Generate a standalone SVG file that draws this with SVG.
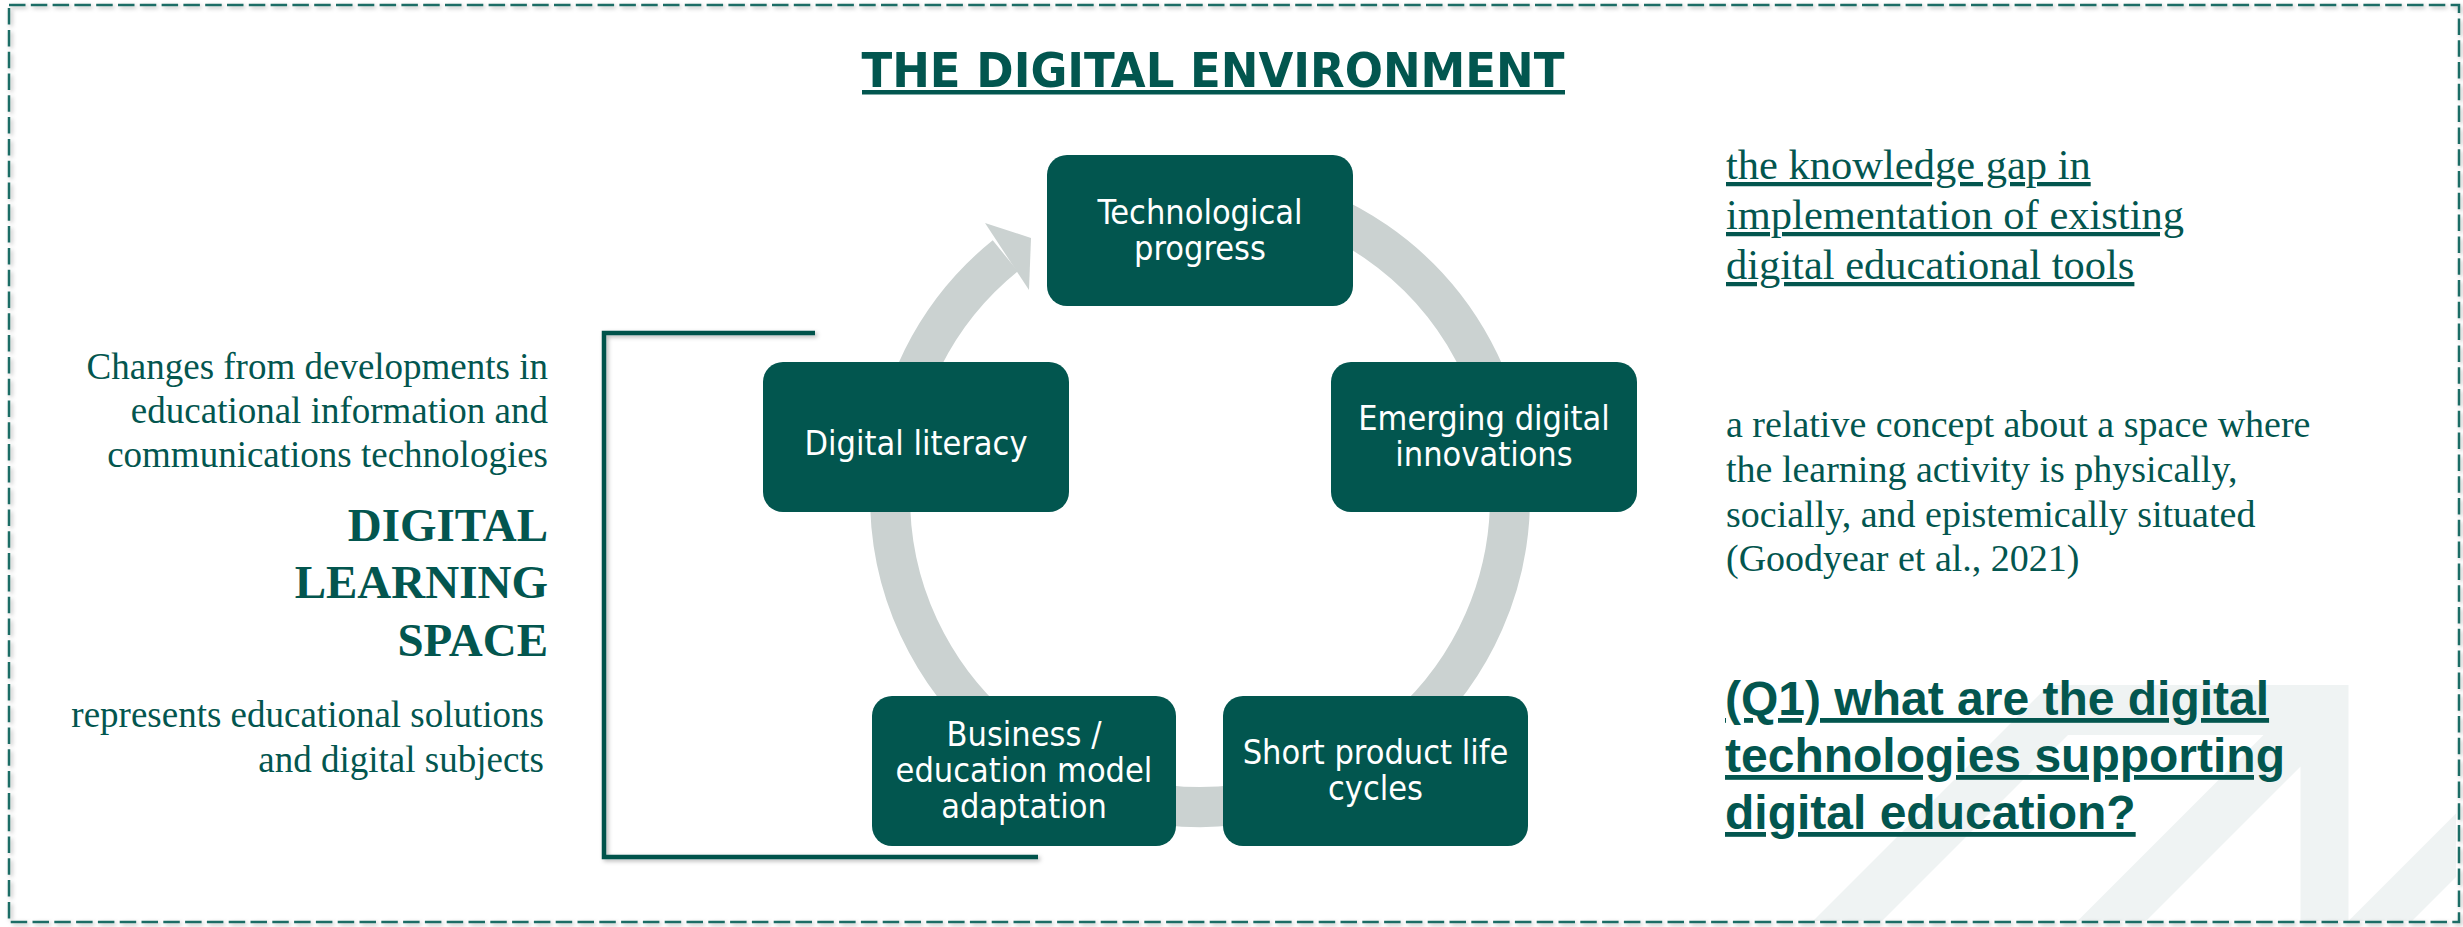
<svg xmlns="http://www.w3.org/2000/svg" width="2463" height="927" viewBox="0 0 2463 927">
<defs>
<style>
.node rect{fill:#02564F;}
.nt{font-family:"DejaVu Sans Condensed","DejaVu Sans",sans-serif;font-stretch:condensed;font-size:34px;fill:#FFFFFF;text-anchor:middle;}
.serif{font-family:"Liberation Serif","Times New Roman",serif;fill:#03564F;}
.q{font-family:"Liberation Sans",Arial,sans-serif;font-weight:bold;font-size:48px;fill:#03564F;text-decoration:underline;}
.wm{fill:#EFF3F3;}
</style>
<filter id="sh" x="-5%" y="-5%" width="110%" height="110%">
<feDropShadow dx="2" dy="2" stdDeviation="2" flood-color="#000" flood-opacity="0.28"/>
</filter>
</defs>
<rect x="0" y="0" width="2463" height="927" fill="#FFFFFF"/>
<g id="watermark">
<path class="wm" fill-rule="evenodd" d="M1813,921 L2049,685 L2348.5,685 L2348.5,921 Z M1882,921 L2068,735 L2263.5,735 L2077.5,921 Z M2146,921 L2300.5,766.5 L2300.5,921 Z"/>
<path class="wm" d="M2348.5,921 L2456,813.5 L2456,877 L2412,921 Z"/>
</g>
<rect id="frame" x="9" y="5" width="2450" height="917" fill="none" stroke="#1F6D66" stroke-width="2.5" stroke-dasharray="16.5 5.3" filter="url(#sh)"/>
<g id="connectors">
<path d="M1253.8,191.7 A310,310 0 1 1 1005.3,255.8" fill="none" stroke="#CBD2D1" stroke-width="40"/>
<polygon points="985,223 1031,238 1029,290" fill="#CBD2D1"/>
<path id="bracket" d="M815,333 H604 V857 H1038" fill="none" stroke="#02524C" stroke-width="4.5" filter="url(#sh)"/>
</g>
<g id="title">
<text x="1213" y="87" font-family="'DejaVu Sans Condensed','DejaVu Sans',sans-serif" font-stretch="condensed" font-weight="bold" font-size="48" fill="#02564F" text-anchor="middle" textLength="703" lengthAdjust="spacingAndGlyphs">THE DIGITAL ENVIRONMENT</text>
<rect x="862" y="90" width="703" height="4.5" fill="#02564F"/>
</g>
<g id="node-tech" class="node">
<rect x="1047" y="155" width="306" height="151" rx="20"/>
<text class="nt" x="1200" y="224">Technological</text>
<text class="nt" x="1200" y="260">progress</text>
</g>
<g id="node-emerging" class="node">
<rect x="1331" y="362" width="306" height="150" rx="20"/>
<text class="nt" x="1484" y="430">Emerging digital</text>
<text class="nt" x="1484" y="466">innovations</text>
</g>
<g id="node-short" class="node">
<rect x="1223" y="696" width="305" height="150" rx="20"/>
<text class="nt" x="1375.5" y="764">Short product life</text>
<text class="nt" x="1375.5" y="800">cycles</text>
</g>
<g id="node-business" class="node">
<rect x="872" y="696" width="304" height="150" rx="20"/>
<text class="nt" x="1024" y="746">Business /</text>
<text class="nt" x="1024" y="782">education model</text>
<text class="nt" x="1024" y="818">adaptation</text>
</g>
<g id="node-literacy" class="node">
<rect x="763" y="362" width="306" height="150" rx="20"/>
<text class="nt" x="916" y="455">Digital literacy</text>
</g>
<g id="left-text" class="serif" text-anchor="end">
<text x="548" y="379" font-size="37">Changes from developments in</text>
<text x="548" y="423" font-size="37">educational information and</text>
<text x="548" y="467" font-size="37">communications technologies</text>
<text x="548" y="541" font-size="47" font-weight="bold">DIGITAL</text>
<text x="548" y="598" font-size="47" font-weight="bold">LEARNING</text>
<text x="548" y="656" font-size="47" font-weight="bold">SPACE</text>
<text x="544" y="727" font-size="37">represents educational solutions</text>
<text x="544" y="772" font-size="37">and digital subjects</text>
</g>
<g id="right-text" class="serif">
<text x="1726" y="179" font-size="42.5" text-decoration="underline">the knowledge gap in</text>
<text x="1726" y="229" font-size="42.5" text-decoration="underline">implementation of existing</text>
<text x="1726" y="279" font-size="42.5" text-decoration="underline">digital educational tools</text>
<text x="1726" y="437" font-size="38">a relative concept about a space where</text>
<text x="1726" y="482" font-size="38">the learning activity is physically,</text>
<text x="1726" y="527" font-size="38">socially, and epistemically situated</text>
<text x="1726" y="571" font-size="38">(Goodyear et al., 2021)</text>
</g>
<g id="question">
<text class="q" x="1725" y="715">(Q1) what are the digital</text>
<text class="q" x="1725" y="772">technologies supporting</text>
<text class="q" x="1725" y="829">digital education?</text>
</g>
</svg>
